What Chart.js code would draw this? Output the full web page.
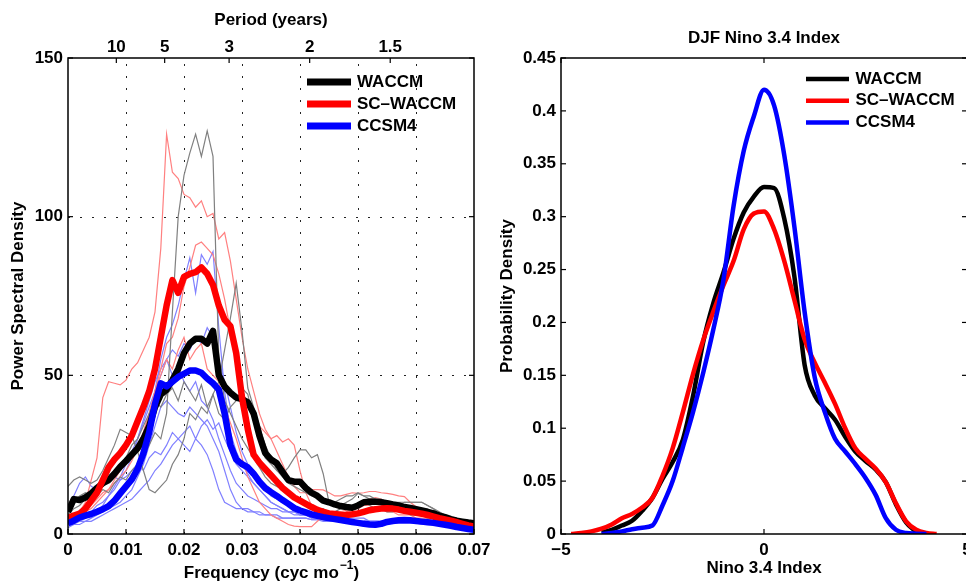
<!DOCTYPE html>
<html>
<head>
<meta charset="utf-8">
<script src="https://cdn.jsdelivr.net/npm/chart.js@4.4.0/dist/chart.umd.min.js"></script>
<style>
  html, body { margin: 0; padding: 0; background: #fff; overflow: hidden; }
  #left { position: absolute; left: 0; top: 0; }
  #right { position: absolute; left: 490px; top: 0; }
</style>
</head>
<body>
<canvas id="left" width="490" height="584"></canvas>
<canvas id="right" width="500" height="584"></canvas>
<script>
// ---- spectra (left panel) ----
const FREQ = [
  0, 0.001, 0.002, 0.003, 0.004, 0.005, 0.006, 0.007, 0.008, 0.009,
  0.010, 0.011, 0.012, 0.013, 0.014, 0.015, 0.016, 0.017, 0.018, 0.019,
  0.020, 0.021, 0.022, 0.023, 0.024, 0.025, 0.026, 0.027, 0.028, 0.029,
  0.030, 0.031, 0.032, 0.033, 0.034, 0.035, 0.036, 0.037, 0.038, 0.039,
  0.040, 0.041, 0.042, 0.043, 0.044, 0.045, 0.046, 0.047, 0.048, 0.049,
  0.050, 0.051, 0.052, 0.053, 0.054, 0.055, 0.056, 0.057, 0.058, 0.059,
  0.060, 0.061, 0.062, 0.063, 0.064, 0.065, 0.066, 0.067, 0.068, 0.069,
  0.070
];
const PERIOD_YEARS = [10, 5, 3, 2, 1.5];

const PSD_WACCM = [
  7, 11, 10.7, 11.5, 12.8, 14.5, 16, 17, 19, 21.2,
  23, 25, 27, 30, 34, 40, 44, 45.5, 48.5, 52,
  57, 60, 61.5, 61.5, 60, 64, 50, 46.5, 44.5, 43,
  42.5, 41.5, 38, 31, 25.5, 23.5, 22.3, 19.5, 17, 16.5,
  16.5, 14.5, 13, 12, 10.5, 10, 9.3, 8.8, 8.5, 8.3,
  9, 10, 10.2, 10.2, 10, 9.7, 9.3, 9, 8.5, 8.2,
  7.8, 7.4, 7, 6.5, 5.8, 5.3, 4.7, 4.2, 3.9, 3.6,
  3.4
];
const PSD_SCWACCM = [
  5, 5.8, 6.4, 8, 10.5, 13, 17, 21, 23.5, 25.5,
  28, 31, 35.5, 40, 45, 52, 62, 72, 80, 76,
  81, 82, 82.5, 84, 82, 78.5, 72, 67.5, 65.5, 57,
  43, 33, 25, 22.5, 20.5, 18.5, 16.5, 14.5, 13, 11.5,
  10.5, 9.5, 8.5, 7.6, 7, 6.5, 6.3, 6.1, 6, 6.2,
  6.5, 7, 7.5, 7.8, 8, 8.1, 8, 7.7, 7.3, 7,
  6.7, 6.4, 6, 5.5, 5, 4.6, 4.2, 3.7, 3.2, 2.7,
  2.3
];
const PSD_CCSM4 = [
  3.4, 4.2, 5.2, 5.8, 6.3, 7, 7.8, 8.8, 10.5, 12.8,
  15, 17.2, 20.5, 25.4, 32, 41, 47.5, 46.5, 48, 49.5,
  50.5, 51.5, 51.5, 50.8, 49, 47.5, 45.5, 38, 28, 23.5,
  22, 21, 19, 16.5, 14.5, 13.2, 12, 10.7, 9.5, 8.2,
  7.4, 6.8, 6.2, 5.7, 5.3, 5, 4.7, 4.4, 4.1, 3.8,
  3.5, 3.2, 3.0, 2.9, 3.2, 3.8, 4.1, 4.3, 4.4, 4.3,
  4.1, 3.9, 3.7, 3.5, 3.2, 2.9, 2.6, 2.2, 1.9, 1.6,
  1.3
];

// individual ensemble members (thin lines)
const WACCM_MEMBERS = [
  [6, 8, 9, 11, 10, 12, 14, 13, 16, 18,
   17, 20, 22, 25, 28, 32, 30, 38, 70, 100,
   113, 120, 126, 119, 127, 119, 55, 42, 38, 34,
   30, 27, 24, 21, 18, 16, 15, 14, 13, 12,
   11, 10, 9, 8, 8, 7, 7, 8, 8, 9,
   9, 10, 9, 8, 8, 7, 7, 8, 7, 6,
   6, 6, 5, 5, 4, 4, 4, 3, 3, 3,
   3],
  [15, 17, 18, 17, 16, 17, 20, 24, 28, 33,
   32, 31, 26, 20, 14, 13, 15, 17, 22, 25,
   30, 38, 36, 40, 38, 44, 48, 58, 68, 79,
   64, 46, 40, 34, 28, 24, 20, 18, 16, 15,
   14, 13, 12, 12, 11, 10, 10, 11, 12, 12,
   13, 12, 12, 11, 11, 10, 10, 9, 10, 10,
   10, 10, 9, 8, 7, 6, 5, 5, 4, 4,
   3],
  [8, 10, 12, 13, 12, 14, 15, 17, 19, 22,
   24, 28, 30, 34, 38, 42, 40, 44, 46, 42,
   48, 45, 42, 47, 40, 44, 38, 36, 40, 42,
   46, 44, 36, 30, 24, 22, 20, 19, 21, 24,
   26.5, 26.5, 24, 25, 19, 10, 9, 9, 10, 11,
   12.8, 12, 11, 11, 10, 10, 10, 10, 10, 10,
   10, 10, 9, 8, 6, 5, 4, 4, 3, 3,
   3]
];
const SCWACCM_MEMBERS = [
  [4, 5, 7, 10, 17, 24, 43, 48, 47.5, 47,
   48.5, 52, 54, 58, 62, 70, 90, 126, 114, 112,
   107, 106, 103, 105, 100, 101, 93, 95, 86, 74,
   62, 52, 45, 38, 33, 30, 31, 29, 30, 28,
   20, 13, 9, 7, 6, 5, 5, 6, 7, 8,
   8, 9, 9, 8, 8, 7, 7, 6, 6, 6,
   5, 5, 5, 4, 4, 4, 3, 3, 3, 2,
   2],
  [4, 5, 6, 7, 9, 11, 13, 14, 16, 18,
   20, 23, 27, 32, 38, 45, 52, 60, 62, 68,
   78, 84, 91, 92, 90, 88, 82, 74, 64, 55,
   46, 40, 36, 34, 32, 30, 26, 22, 18, 15,
   13, 13, 14, 14, 13.9, 13, 12, 12, 12.5, 13,
   12.8, 13, 13.4, 13.4, 13, 12.8, 12.5, 12, 11.8, 10,
   8.6, 7, 6, 5, 4.5, 4, 3.5, 3, 3, 2.5,
   2],
  [5, 6, 6, 7, 8, 10, 12, 14, 17, 20,
   22, 25, 28, 32, 38, 45, 50, 55, 52, 58,
   62, 55, 58, 60, 52, 50, 48, 40, 35, 30,
   24, 18, 14, 10, 8, 6, 5, 4, 3, 2.5,
   2.3, 2.3, 2.3, 4, 5.5, 6, 6.5, 7, 7.5, 8,
   9, 10, 11, 11.5, 11, 10, 9, 8, 7, 7,
   6, 6, 5, 5, 4, 4, 3, 3, 2.5, 2,
   2]
];
const CCSM4_MEMBERS = [
  [3, 4, 4, 5, 6, 7, 8, 9, 11, 13,
   15, 18, 22, 28, 35, 45, 55, 62, 66, 72,
   80, 87, 76, 88, 85, 89, 65, 45, 32, 26,
   22, 19, 16, 14, 12, 10, 9, 8, 7, 7,
   6, 6, 5, 5, 5, 5, 5, 4, 4, 4,
   4, 4, 4, 4, 4, 4, 4, 4, 4, 4,
   4, 4, 3.5, 3.5, 3, 3, 3, 2.5, 2, 1.5,
   1],
  [4, 4, 5, 5, 6, 7, 9, 12, 15, 18,
   22, 26, 30, 35, 40, 45, 50, 55, 58, 56,
   60, 58, 62, 60, 65, 62, 55, 48, 40, 32,
   26, 22, 18, 16, 14, 12, 11, 10, 9, 8,
   7, 7, 6, 6, 6, 5, 5, 5, 5, 5,
   5, 5, 4, 4, 4, 4, 4, 4, 4, 4,
   4, 4, 4, 3.5, 3.5, 3, 3, 2.5, 2, 2,
   2],
  [3, 4, 5, 6, 7, 9, 10, 12, 14, 17,
   20, 24, 30, 36, 42, 48, 52, 55, 50, 53,
   48, 45, 48, 42, 40, 36, 30, 25, 20, 16,
   14, 12, 11, 10, 9, 8, 8, 7, 7, 6,
   6, 6, 5, 5, 5, 4.5, 4.5, 4, 4, 4,
   4, 4, 3.5, 3.5, 3.5, 3.5, 3.5, 3.5, 3.5, 3.5,
   3.5, 3.5, 3, 3, 3, 2.5, 2.5, 2, 2, 1.5,
   1.5],
  [3, 3, 4, 4, 5, 6, 7, 8, 9, 10,
   12, 14, 18, 22, 28, 34, 40, 42, 40, 38,
   37, 40, 38, 36, 34, 30, 26, 20, 14, 10,
   8, 8, 7, 7, 6, 6, 6, 5, 5, 5,
   5, 5, 4.5, 4.5, 4.5, 4, 4, 4, 4, 4,
   4, 4, 4, 4, 4, 4, 4, 4, 4, 4,
   3.5, 3.5, 3.5, 3, 3, 3, 2.5, 2.5, 2, 2,
   1.5],
  [2, 3, 3, 4, 4, 5, 6, 7, 8, 9,
   10, 11, 13, 15, 17, 20, 22, 25, 28, 30,
   32, 34, 30, 34, 36, 33, 35, 30, 26, 22,
   20, 18, 16, 14, 12, 10, 9, 8, 7, 7,
   6, 6, 6, 5, 5, 5, 4.5, 4.5, 4, 4,
   4, 4, 4, 4, 4, 3.5, 3.5, 3.5, 3.5, 3.5,
   3.5, 3.5, 3.5, 3, 3, 3, 2.5, 2.5, 2, 2,
   2],
  [8, 12, 16, 18, 15, 14, 16, 17, 18, 17,
   18, 20, 22, 20, 24, 26, 25, 28, 32, 30,
   28, 26, 30, 28, 25, 20, 14, 10, 9, 8,
   8, 7, 7, 6, 6, 6, 5, 5, 5, 5,
   5, 5, 4.5, 4.5, 4, 4, 4, 4, 4, 4,
   3.5, 3.5, 3.5, 3.5, 3.5, 3.5, 3.5, 3.5, 3.5, 3.5,
   3.5, 3, 3, 3, 3, 2.5, 2.5, 2, 2, 1.5,
   1.5]
];

// ---- DJF Nino 3.4 PDFs (right panel) ----
const NINO_X = [
  -4.75, -4.5, -4.25, -4.0, -3.75, -3.5, -3.25, -3.0, -2.75, -2.5,
  -2.25, -2.0, -1.75, -1.5, -1.25, -1.0, -0.75, -0.5, -0.25, 0,
  0.25, 0.5, 0.75, 1.0, 1.25, 1.5, 1.75, 2.0, 2.25, 2.5,
  2.75, 3.0, 3.25, 3.5, 3.75, 4.0, 4.25, 4.5
];
const PDF_WACCM = [
  null, null, null, 0.0015, 0.004, 0.008, 0.0125, 0.022, 0.034, 0.052,
  0.068, 0.089, 0.13, 0.181, 0.218, 0.247, 0.279, 0.304, 0.319, 0.328,
  0.327, 0.298, 0.243, 0.16, 0.131, 0.119, 0.108, 0.092, 0.078, 0.069,
  0.061, 0.049, 0.028, 0.011, 0.002, null, null, null
];
const PDF_SCWACCM = [
  0.0, 0.001, 0.0025, 0.005, 0.009, 0.015, 0.019, 0.025, 0.034, 0.055,
  0.081, 0.115, 0.151, 0.183, 0.21, 0.235, 0.258, 0.288, 0.303, 0.305,
  0.288, 0.258, 0.221, 0.184, 0.162, 0.143, 0.123, 0.1, 0.081, 0.071,
  0.062, 0.049, 0.029, 0.012, 0.004, 0.001, 0.0, null
];
const PDF_CCSM4 = [
  null, null, null, 0.0, 0.001, 0.0025, 0.0045, 0.006, 0.008, 0.027,
  0.05, 0.082, 0.115, 0.152, 0.193, 0.24, 0.31, 0.362, 0.395, 0.42,
  0.405, 0.358, 0.29, 0.21, 0.148, 0.115, 0.09, 0.078, 0.066, 0.053,
  0.037, 0.015, 0.004, 0.001, 0.0003, 0.0, null, null
];

const FONT = '"Liberation Sans", Arial, Helvetica, sans-serif';
Chart.defaults.font.family = FONT;
Chart.defaults.font.size = 17;
Chart.defaults.font.weight = 'bold';
Chart.defaults.color = '#000';
Chart.defaults.animation = false;

/** box, inward tick marks and dotted grid, MATLAB style */
const matlabAxes = {
  id: 'matlabAxes',
  beforeDatasetsDraw(chart, args, opts) {
    if (!opts.grid) return;
    const { ctx, chartArea: a, scales } = chart;
    ctx.save();
    ctx.strokeStyle = '#222';
    ctx.lineWidth = 1;
    ctx.setLineDash([2, 10]);
    scales.x.ticks.forEach(t => {
      const px = Math.round(scales.x.getPixelForValue(t.value)) + 0.5;
      if (px <= a.left + 2 || px >= a.right - 2) return;
      ctx.beginPath(); ctx.moveTo(px, a.bottom); ctx.lineTo(px, a.top); ctx.stroke();
    });
    scales.y.ticks.forEach(t => {
      const py = Math.round(scales.y.getPixelForValue(t.value)) + 0.5;
      if (py <= a.top + 2 || py >= a.bottom - 2) return;
      ctx.beginPath(); ctx.moveTo(a.left, py); ctx.lineTo(a.right, py); ctx.stroke();
    });
    ctx.restore();
  },
  afterDatasetsDraw(chart, args, opts) {
    const { ctx, chartArea: a, scales } = chart;
    const L = 5;
    const seg = (x1, y1, x2, y2) => { ctx.beginPath(); ctx.moveTo(x1, y1); ctx.lineTo(x2, y2); ctx.stroke(); };
    ctx.save();
    ctx.strokeStyle = '#000';
    ctx.lineWidth = 1.2;
    scales.x.ticks.forEach(t => {
      const px = scales.x.getPixelForValue(t.value);
      seg(px, a.bottom, px, a.bottom - L);
      if (opts.mirrorX) seg(px, a.top, px, a.top + L);
    });
    if (!opts.mirrorX && scales.x2) {
      scales.x2.ticks.forEach(t => {
        const px = scales.x2.getPixelForValue(t.value);
        seg(px, a.top, px, a.top + L);
      });
    }
    scales.y.ticks.forEach(t => {
      const py = scales.y.getPixelForValue(t.value);
      seg(a.left, py, a.left + L, py);
      seg(a.right, py, a.right - L, py);
    });
    ctx.lineWidth = 1.5;
    ctx.strokeRect(a.left, a.top, a.right - a.left, a.bottom - a.top);
    ctx.restore();
  }
};

/** legend drawn inside the axes, top right */
const insideLegend = {
  id: 'insideLegend',
  afterDatasetsDraw(chart, args, o) {
    const { ctx } = chart;
    ctx.save();
    ctx.font = 'bold 17px ' + FONT;
    ctx.textBaseline = 'middle';
    ctx.textAlign = 'left';
    ctx.fillStyle = '#000';
    o.items.forEach((idx, i) => {
      const ds = chart.data.datasets[idx];
      const y = o.y + i * o.rowH;
      ctx.strokeStyle = ds.borderColor;
      ctx.lineWidth = o.lineW;
      ctx.lineCap = 'butt';
      ctx.beginPath(); ctx.moveTo(o.x, y); ctx.lineTo(o.x + o.lineLen, y); ctx.stroke();
      ctx.fillText(ds.label, o.x + o.lineLen + o.gap, y);
    });
    ctx.restore();
  }
};

/** x-axis title with a superscript */
const supTitle = {
  id: 'supTitle',
  afterDraw(chart, args, o) {
    if (!o.text) return;
    const { ctx, chartArea: a } = chart;
    const big = 'bold 17px ' + FONT, small = 'bold 12px ' + FONT;
    ctx.save();
    ctx.fillStyle = '#000';
    ctx.textBaseline = 'middle';
    ctx.textAlign = 'left';
    ctx.font = big;
    const w1 = ctx.measureText(o.text).width, w3 = ctx.measureText(o.tail).width;
    ctx.font = small;
    const w2 = ctx.measureText(o.sup).width;
    let x = (a.left + a.right) / 2 - (w1 + w2 + w3) / 2;
    ctx.font = big; ctx.fillText(o.text, x, o.y); x += w1;
    ctx.font = small; ctx.fillText(o.sup, x + 1, o.y - 7); x += w2 + 1;
    ctx.font = big; ctx.fillText(o.tail, x, o.y);
    ctx.restore();
  }
};

const toXY = (xs, vals) => vals.map((v, i) => ({ x: xs[i], y: v }));

function thinLine(vals, color) {
  return { data: toXY(FREQ, vals), borderColor: color, borderWidth: 1.2, pointRadius: 0, tension: 0, order: 10 };
}
function thickLine(label, vals, color, order) {
  return {
    label, data: toXY(FREQ, vals), borderColor: color, borderWidth: 6.5,
    pointRadius: 0, tension: 0, borderJoinStyle: 'round', order
  };
}

const leftSets = [
  thickLine('WACCM', PSD_WACCM, '#000000', 3),
  thickLine('SC\u2013WACCM', PSD_SCWACCM, '#ff0000', 2),
  thickLine('CCSM4', PSD_CCSM4, '#0000ff', 1)
];
WACCM_MEMBERS.forEach(m => leftSets.push(thinLine(m, '#808080')));
SCWACCM_MEMBERS.forEach(m => leftSets.push(thinLine(m, '#ff8080')));
CCSM4_MEMBERS.forEach(m => leftSets.push(thinLine(m, '#8080ff')));

new Chart(document.getElementById('left'), {
  type: 'line',
  data: { datasets: leftSets },
  options: {
    responsive: false,
    layout: { padding: { left: 0, right: 16, top: 0, bottom: 0 } },
    scales: {
      x: {
        type: 'linear', position: 'bottom', min: 0, max: 0.07,
        grid: { display: false, drawTicks: false }, border: { display: false },
        ticks: { stepSize: 0.01, padding: 6, maxRotation: 0, autoSkip: false,
          callback: v => (v === 0 ? '0' : v.toFixed(2)) },
        afterFit: s => { s.height = 50; s.paddingLeft = 0; s.paddingRight = 0; }
      },
      x2: {
        type: 'linear', position: 'top', min: 0, max: 0.07,
        grid: { display: false, drawTicks: false }, border: { display: false },
        afterBuildTicks: s => { s.ticks = PERIOD_YEARS.map(p => ({ value: 1 / (12 * p) })); },
        ticks: { padding: 0, maxRotation: 0, autoSkip: false, callback: (v, i) => String(PERIOD_YEARS[i]) },
        title: { display: true, text: 'Period (years)', padding: { top: 10.5, bottom: 0 } },
        afterFit: s => { s.height = 58; s.paddingLeft = 0; s.paddingRight = 0; }
      },
      y: {
        type: 'linear', position: 'left', min: 0, max: 150,
        grid: { display: false, drawTicks: false }, border: { display: false },
        ticks: { stepSize: 50, padding: 5 },
        title: { display: true, text: 'Power Spectral Density', padding: { top: 8, bottom: 0 } },
        afterFit: s => { s.width = 68; s.paddingTop = 0; s.paddingBottom = 0; }
      }
    },
    plugins: {
      legend: { display: false },
      tooltip: { enabled: false },
      matlabAxes: { grid: true, mirrorX: false },
      insideLegend: { items: [0, 1, 2], x: 307, y: 82, rowH: 22, lineLen: 44, lineW: 7, gap: 6 },
      supTitle: { text: 'Frequency (cyc mo', sup: '\u22121', tail: ')', y: 573 }
    }
  },
  plugins: [matlabAxes, insideLegend, supTitle]
});

function pdfLine(label, vals, color, order) {
  return {
    label, data: toXY(NINO_X, vals), borderColor: color, borderWidth: 4.5,
    pointRadius: 0, cubicInterpolationMode: 'monotone', tension: 0.4,
    borderJoinStyle: 'round', order
  };
}

new Chart(document.getElementById('right'), {
  type: 'line',
  data: {
    datasets: [
      pdfLine('WACCM', PDF_WACCM, '#000000', 3),
      pdfLine('SC\u2013WACCM', PDF_SCWACCM, '#ff0000', 2),
      pdfLine('CCSM4', PDF_CCSM4, '#0000ff', 1)
    ]
  },
  options: {
    responsive: false,
    layout: { padding: { left: 0, right: 23, top: 0, bottom: 0 } },
    scales: {
      x: {
        type: 'linear', position: 'bottom', min: -5, max: 5,
        grid: { display: false, drawTicks: false }, border: { display: false },
        ticks: { stepSize: 5, padding: 6, maxRotation: 0, autoSkip: false,
          callback: v => (v < 0 ? '\u2212' + Math.abs(v) : String(v)) },
        title: { display: true, text: 'Nino 3.4 Index', padding: { top: 0, bottom: 5 } },
        afterFit: s => { s.height = 50; s.paddingLeft = 0; s.paddingRight = 0; }
      },
      x2: {
        type: 'linear', position: 'top', min: -5, max: 5,
        grid: { display: false, drawTicks: false }, border: { display: false },
        ticks: { display: false },
        title: { display: true, text: 'DJF Nino 3.4 Index', padding: { top: 28, bottom: 0 } },
        afterFit: s => { s.height = 58; s.paddingLeft = 0; s.paddingRight = 0; }
      },
      y: {
        type: 'linear', position: 'left', min: 0, max: 0.45,
        grid: { display: false, drawTicks: false }, border: { display: false },
        ticks: { stepSize: 0.05, padding: 5, callback: v => String(+v.toFixed(2)) },
        title: { display: true, text: 'Probability Density', padding: { top: 7, bottom: 0 } },
        afterFit: s => { s.width = 71; s.paddingTop = 0; s.paddingBottom = 0; }
      }
    },
    plugins: {
      legend: { display: false },
      tooltip: { enabled: false },
      matlabAxes: { grid: false, mirrorX: true },
      insideLegend: { items: [0, 1, 2], x: 316, y: 79, rowH: 21.7, lineLen: 43, lineW: 4.5, gap: 6.5 }
    }
  },
  plugins: [matlabAxes, insideLegend]
});
</script>
</body>
</html>
